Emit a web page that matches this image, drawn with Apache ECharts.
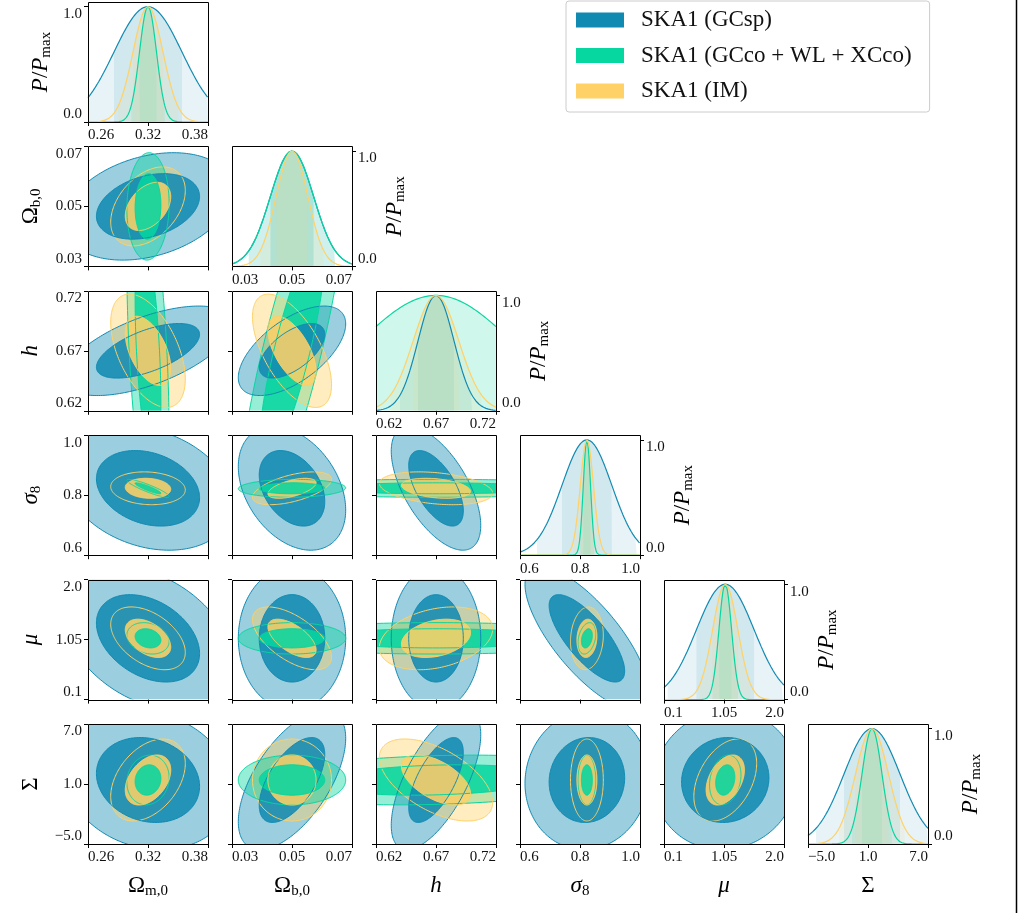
<!DOCTYPE html>
<html><head><meta charset="utf-8">
<script src="https://cdn.jsdelivr.net/npm/echarts@6/dist/echarts.min.js"></script>
<style>html,body{margin:0;padding:0;background:#fff}#c{width:1019px;height:913px}</style>
</head><body><div id="c"></div>
<script>
// ---------------- data ----------------
const paramLabels = ['{m|Ω}{s|m,0}', '{m|Ω}{s|b,0}', '{i|h}', '{i|σ}{s|8}', '{i|μ}', '{m|Σ}'];
const fiducial = [0.32, 0.05, 0.67, 0.823, 1.07, 1.4];
const axisMin = [0.26, 0.03, 0.62, 0.6, 0.1, -5.0];
const axisMax = [0.38, 0.07, 0.72, 1.0, 2.0, 7.0];
const tickStep = [0.06, 0.02, 0.05, 0.2, 0.95, 6.0];
const tickValues = [[0.26, 0.32, 0.38], [0.03, 0.05, 0.07], [0.62, 0.67, 0.72], [0.6, 0.8, 1.0], [0.1, 1.05, 2.0], [-5.0, 1.0, 7.0]];
const tickLabels = [['0.26', '0.32', '0.38'], ['0.03', '0.05', '0.07'], ['0.62', '0.67', '0.72'], ['0.6', '0.8', '1.0'], ['0.1', '1.05', '2.0'], ['−5.0', '1.0', '7.0']];
const diagTickValues = [0, 1];
const diagTickLabels = ['0.0', '1.0'];
const diagLabel = '{i|P}{m|/}{i|P}{s|max}';

const probeNames = ['SKA1 (GCsp)', 'SKA1 (GCco + WL + XCco)', 'SKA1 (IM)'];
const probeColors = ['#118ab2', '#06d6a0', '#ffd166'];
// 1-sigma marginal errors (order: Om, Ob, h, s8, mu, Sigma)
const sigmaGCsp = [0.034, 0.0072, 0.015, 0.083, 0.456, 2.8];
const sigmaGCco = [0.0085, 0.0072, 0.063, 0.012, 0.10, 1.0];
const sigmaIM = [0.015, 0.0053, 0.019, 0.022, 0.20, 1.65];
// correlations, pair order (0,1),(0,2),(0,3),(0,4),(0,5),(1,2),(1,3),(1,4),(1,5),(2,3),(2,4),(2,5),(3,4),(3,5),(4,5)
const corrGCsp = [0.3, 0.6, -0.25, -0.35, -0.15, 0.6, -0.35, 0.0, 0.6, -0.6, 0.0, 0.65, -0.75, 0.05, 0.05];
const corrGCco = [0.05, -0.45, -0.9, -0.2, 0.1, 0.83, 0.05, 0.0, 0.0, 0.0, 0.0, 0.2, 0.3, 0.0, 0.2];
const corrIM = [0.4, -0.5, -0.1, -0.45, 0.4, -0.6, 0.55, -0.6, 0.0, -0.3, 0.3, -0.55, 0.1, 0.0, 0.4];
const contourDchi2 = [6.18, 2.30]; // 95% and 68% 2D contours

// ---------------- layout / style ----------------
const FONT = "'Liberation Serif', 'DejaVu Serif', serif";
const N = 6;
const PS = 120;
const panelLeft = j => 88 + 144 * j;
const panelTop = i => 2 + 144.4 * i;
const RICH = {
  m: { fontFamily: FONT, fontSize: 23, lineHeight: 26, color: '#000' },
  i: { fontFamily: FONT, fontSize: 23, lineHeight: 26, fontStyle: 'italic', color: '#000' },
  s: { fontFamily: FONT, fontSize: 15, lineHeight: 11, verticalAlign: 'bottom', color: '#000' }
};
const sigmas = [sigmaGCsp, sigmaGCco, sigmaIM];
const corrs = [corrGCsp, corrGCco, corrIM];
function pairIndex(a, b) {
  let idx = 0;
  for (let p = 0; p < N; p++) for (let q = p + 1; q < N; q++) { if (p === a && q === b) return idx; idx++; }
  return -1;
}
function rgba(hex, a) {
  const r = parseInt(hex.slice(1, 3), 16), g = parseInt(hex.slice(3, 5), 16), b = parseInt(hex.slice(5, 7), 16);
  return 'rgba(' + r + ',' + g + ',' + b + ',' + a + ')';
}
function fmt(p, v) {
  const tv = tickValues[p];
  let best = 0;
  for (let k = 1; k < tv.length; k++) if (Math.abs(tv[k] - v) < Math.abs(tv[best] - v)) best = k;
  return tickLabels[p][best];
}
function tickStyle() { return { show: true, inside: false, length: 4, lineStyle: { color: '#000', width: 1 } }; }
function labelStyle(show, p, horiz) {
  const o = { show: show, formatter: (v) => fmt(p, v), fontFamily: FONT, fontSize: 15, color: '#111', margin: 6,
    showMinLabel: true, showMaxLabel: true, hideOverlap: false };
  if (horiz) { o.alignMinLabel = 'left'; o.alignMaxLabel = 'right'; }
  else { o.verticalAlignMinLabel = 'bottom'; o.verticalAlignMaxLabel = 'top'; }
  return o;
}
function noLine() { return { show: false, onZero: false }; }
function diagYAxis(gridIndex, i) {
  return {
    type: 'value', gridIndex: gridIndex, min: 0, max: 1.04, position: i === 0 ? 'left' : 'right',
    axisLine: noLine(), splitLine: { show: false },
    axisTick: Object.assign(tickStyle(), { customValues: diagTickValues }),
    axisLabel: { show: true, customValues: diagTickValues,
      formatter: (v) => diagTickLabels[Math.round(v)], fontFamily: FONT, fontSize: 15, color: '#111', margin: 6,
      verticalAlignMinLabel: 'bottom', verticalAlignMaxLabel: 'top', hideOverlap: false },
    name: diagLabel, nameLocation: 'middle', nameGap: i === 0 ? 34 : 30, nameRotate: 90,
    nameTextStyle: { rich: RICH }
  };
}

const grids = [], xAxes = [], yAxes = [], series = [], graphics = [];
const manualLabelAxes = []; // axes whose tick labels are drawn from the axis scale after layout
let gi = 0;
for (let i = 0; i < N; i++) {
  for (let j = 0; j <= i; j++) {
    const isDiag = i === j, bottom = i === N - 1;
    grids.push({ left: panelLeft(j), top: panelTop(i), width: PS, height: PS });
    graphics.push({ type: 'rect', z: 100, silent: true,
      shape: { x: panelLeft(j) + 0.5, y: Math.round(panelTop(i)) + 0.5, width: PS, height: PS },
      style: { fill: 'none', stroke: '#000', lineWidth: 1 } });
    let showX = isDiag || bottom;
    const crossesZero = axisMin[j] < 0 && axisMax[j] > 0;
    if (showX && isDiag && crossesZero) {
      manualLabelAxes.push({ axisIndex: gi, p: j, bottomY: Math.round(panelTop(i)) + PS });
      showX = false;
    }
    xAxes.push({
      type: 'value', gridIndex: gi, min: axisMin[j], max: axisMax[j], interval: tickStep[j], position: 'bottom',
      axisLine: noLine(), splitLine: { show: false },
      axisTick: tickStyle(),
      axisLabel: labelStyle(showX, j, true),
      name: bottom ? paramLabels[j] : '', nameLocation: 'middle', nameGap: 29,
      nameTextStyle: { rich: RICH }
    });
    if (isDiag) {
      yAxes.push(diagYAxis(gi, i));
    } else {
      yAxes.push({
        type: 'value', gridIndex: gi, min: axisMin[i], max: axisMax[i], interval: tickStep[i], position: 'left',
        axisLine: noLine(), splitLine: { show: false },
        axisTick: tickStyle(),
        axisLabel: labelStyle(j === 0, i, false),
        name: j === 0 ? paramLabels[i] : '', nameLocation: 'middle', nameGap: 44, nameRotate: 90,
        nameTextStyle: { rich: RICH }
      });
    }

    if (isDiag) {
      // 1D marginal Gaussians
      for (let p = 0; p < 3; p++) {
        const m = fiducial[i], s = sigmas[p][i];
        const gauss = x => Math.exp(-0.5 * Math.pow((x - m) / s, 2));
        [2, 1].forEach(nsig => {
          const lo = Math.max(axisMin[i], m - nsig * s), hi = Math.min(axisMax[i], m + nsig * s);
          const pts = [];
          for (let k = 0; k <= 150; k++) { const x = lo + (hi - lo) * k / 150; pts.push([x, gauss(x)]); }
          series.push({ type: 'line', xAxisIndex: gi, yAxisIndex: gi, data: pts, showSymbol: false, silent: true,
            lineStyle: { opacity: 0, width: 0 }, areaStyle: { color: rgba(probeColors[p], 0.1), opacity: 1 },
            animation: false, z: 2 });
        });
        const curve = [];
        for (let k = 0; k <= 300; k++) { const x = axisMin[i] + (axisMax[i] - axisMin[i]) * k / 300; curve.push([x, gauss(x)]); }
        series.push({ name: probeNames[p], type: 'line', xAxisIndex: gi, yAxisIndex: gi, data: curve,
          showSymbol: false, silent: true, color: probeColors[p],
          lineStyle: { color: probeColors[p], width: 1.2 }, animation: false, z: 3 });
      }
    } else {
      const xi = j, yi = i;
      const pi = pairIndex(xi, yi);
      const probes = [0, 1, 2].map(p => {
        const sx = sigmas[p][xi], sy = sigmas[p][yi], rho = corrs[p][pi];
        const ax = (axisMax[xi] - axisMin[xi]), ay = (axisMax[yi] - axisMin[yi]);
        return { p, sx, sy, rho, area: (sx / ax) * (sy / ay) * Math.sqrt(1 - rho * rho) };
      }).sort((a, b) => b.area - a.area);
      const mx = fiducial[xi], my = fiducial[yi];
      series.push({
        type: 'custom', coordinateSystem: 'cartesian2d', xAxisIndex: gi, yAxisIndex: gi, clip: true,
        silent: true, animation: false, z: 2,
        data: [[mx, my]],
        renderItem: function (params, api) {
          const cs = params.coordSys;
          const ell = (pr, d2) => {
            const k = Math.sqrt(d2), pts = [], c = Math.sqrt(1 - pr.rho * pr.rho);
            for (let t = 0; t <= 200; t++) {
              const a = 2 * Math.PI * t / 200;
              pts.push(api.coord([mx + k * pr.sx * Math.cos(a), my + k * pr.sy * (pr.rho * Math.cos(a) + c * Math.sin(a))]));
            }
            return pts;
          };
          const children = [];
          [0, 1].forEach(lev => probes.forEach(pr => {
            children.push({ type: 'polygon', shape: { points: ell(pr, contourDchi2[lev]) },
              style: { fill: rgba(probeColors[pr.p], lev === 0 ? 0.42 : 0.87), stroke: 'none' } });
          }));
          [0, 1].forEach(lev => probes.forEach(pr => {
            children.push({ type: 'polygon', shape: { points: ell(pr, contourDchi2[lev]) },
              style: { fill: 'none', stroke: probeColors[pr.p], lineWidth: 1 } });
          }));
          return { type: 'group', children,
            clipPath: { type: 'rect', shape: { x: cs.x, y: cs.y, width: cs.width, height: cs.height } } };
        }
      });
    }
    gi++;
  }
}
graphics.push({ type: 'line', z: 100, silent: true, shape: { x1: 1016.5, y1: 0, x2: 1016.5, y2: 913 },
  style: { stroke: '#000', lineWidth: 1.5 } });

const chart = echarts.init(document.getElementById('c'), null, { width: 1019, height: 913 });
chart.setOption({
  backgroundColor: '#fff',
  animation: false,
  grid: grids, xAxis: xAxes, yAxis: yAxes, series: series,
  legend: {
    orient: 'vertical', left: 566, top: 1, padding: [6, 18, 8, 10], itemGap: 9.5,
    itemWidth: 48, itemHeight: 15, icon: 'rect', selectedMode: false,
    borderColor: '#cccccc', borderWidth: 1, borderRadius: 3, backgroundColor: '#fff',
    textStyle: { fontFamily: FONT, fontSize: 23, lineHeight: 26, color: '#111', padding: [0, 0, 0, 12] },
    data: probeNames.map((n, k) => ({ name: n, itemStyle: { color: probeColors[k] } }))
  },
  graphic: graphics
});

// tick labels for the zero-crossing diagonal axis, positioned through the axis scale
const extra = [];
manualLabelAxes.forEach(a => {
  tickValues[a.p].forEach((v, k) => {
    const px = chart.convertToPixel({ xAxisIndex: a.axisIndex }, v);
    extra.push({ type: 'text', z: 100, silent: true,
      style: { text: tickLabels[a.p][k], x: px, y: a.bottomY + 6, fontFamily: FONT, fontSize: 15, fill: '#111',
        align: k === 0 ? 'left' : (k === tickValues[a.p].length - 1 ? 'right' : 'center'), verticalAlign: 'top' } });
  });
});
if (extra.length) chart.setOption({ graphic: graphics.concat(extra) });
</script>
</body></html>
